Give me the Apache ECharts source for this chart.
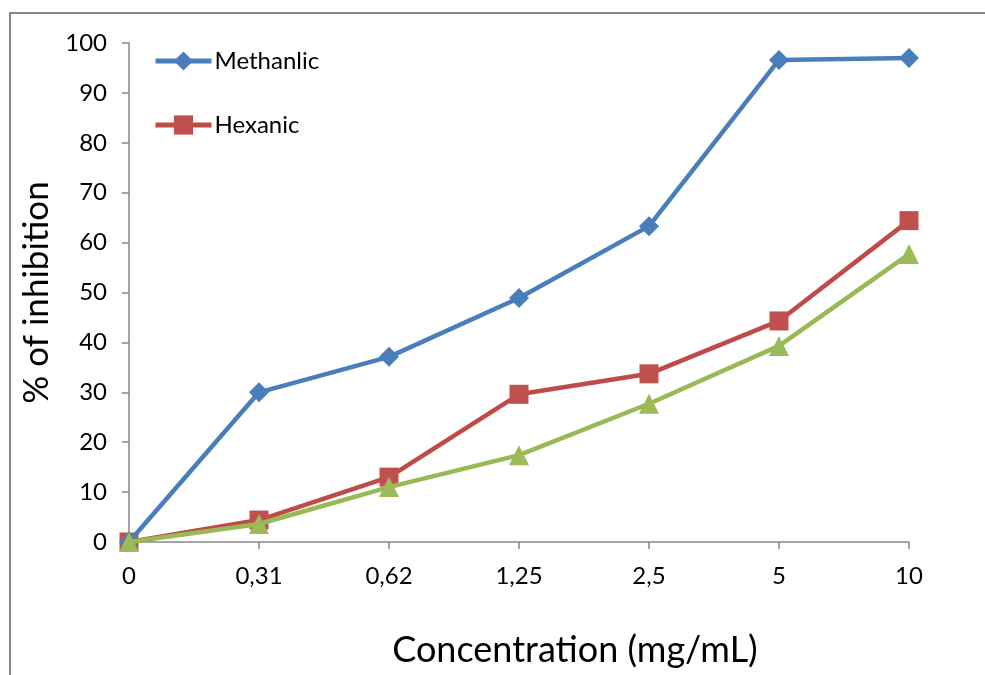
<!DOCTYPE html>
<html>
<head>
<meta charset="utf-8">
<script src="https://cdn.jsdelivr.net/npm/echarts@6/dist/echarts.min.js"></script>
<style>
html, body { margin: 0; padding: 0; background: #fff; }
#chart { width: 985px; height: 675px; }
</style>
</head>
<body>
<div id="chart"></div>
<script>
var chart = echarts.init(document.getElementById('chart'));

// categories (concentration, mg/mL)
var categories = ['0', '0,31', '0,62', '1,25', '2,5', '5', '10'];
// % of inhibition
var methanlic = [0, 30, 37.1, 48.9, 63.3, 96.6, 97.0];
var hexanic = [0, 4.4, 13.0, 29.6, 33.7, 44.3, 64.4];
var third = [0, 3.6, 11.0, 17.4, 27.7, 39.3, 57.7];

var fontFam = 'Lato, "Open Sans", sans-serif';

option = {
	animation: false,
	backgroundColor: '#fff',
	// outer frame
	graphic: [
		{
			type: 'rect',
			shape: { x: 10, y: 13, width: 1000, height: 700 },
			style: { fill: 'none', stroke: '#878787', lineWidth: 2 }
		}
	],
	legend: {
		data: ['Methanlic', 'Hexanic'],
		orient: 'vertical',
		left: 148,
		top: 44,
		itemWidth: 56,
		itemHeight: 24,
		itemGap: 40,
		lineStyle: { width: 5 },
		textStyle: { fontFamily: fontFam, fontSize: 24, lineHeight: 24, color: '#000', padding: [0, 0, 0, -2] }
	},
	grid: {
		left: 129,
		right: 76,
		top: 43,
		bottom: 133
	},
	xAxis: {
		type: 'category',
		data: categories,
		boundaryGap: false,
		name: 'Concentration (mg/mL)',
		nameLocation: 'middle',
		nameGap: 90,
		nameTextStyle: { fontFamily: fontFam, fontSize: 36, color: '#000', padding: [0, 0, 0, 112] },
		axisLine: { lineStyle: { color: '#868686', width: 1.5 } },
		axisTick: { show: true, length: 7, lineStyle: { color: '#868686', width: 1.5 } },
		axisLabel: { fontFamily: fontFam, fontSize: 24, color: '#000', margin: 22 },
		splitLine: { show: false }
	},
	yAxis: {
		type: 'value',
		min: 0,
		max: 100,
		interval: 10,
		name: '% of inhibition',
		nameLocation: 'middle',
		nameGap: 72,
		nameTextStyle: { fontFamily: fontFam, fontSize: 35, color: '#000' },
		axisLine: { show: true, lineStyle: { color: '#868686', width: 1.5 } },
		axisTick: { show: true, length: 7, lineStyle: { color: '#868686', width: 1.5 } },
		axisLabel: { fontFamily: fontFam, fontSize: 24, color: '#000', margin: 22 },
		splitLine: { show: false }
	},
	series: [
		{
			name: 'Methanlic',
			type: 'line',
			data: methanlic,
			symbol: 'diamond',
			symbolSize: 20,
			itemStyle: { color: '#4A7EBB' },
			lineStyle: { color: '#4A7EBB', width: 4.5 },
			z: 3
		},
		{
			name: 'Hexanic',
			type: 'line',
			data: hexanic,
			symbol: 'rect',
			symbolSize: 19,
			itemStyle: { color: '#C0504D' },
			lineStyle: { color: '#BE4B48', width: 4.5 },
			z: 2
		},
		{
			name: 'Series3',
			type: 'line',
			data: third,
			symbol: 'triangle',
			symbolSize: 20,
			itemStyle: { color: '#9BBB59' },
			lineStyle: { color: '#98B954', width: 4.5 },
			z: 4
		}
	]
};

chart.setOption(option);
</script>
</body>
</html>
